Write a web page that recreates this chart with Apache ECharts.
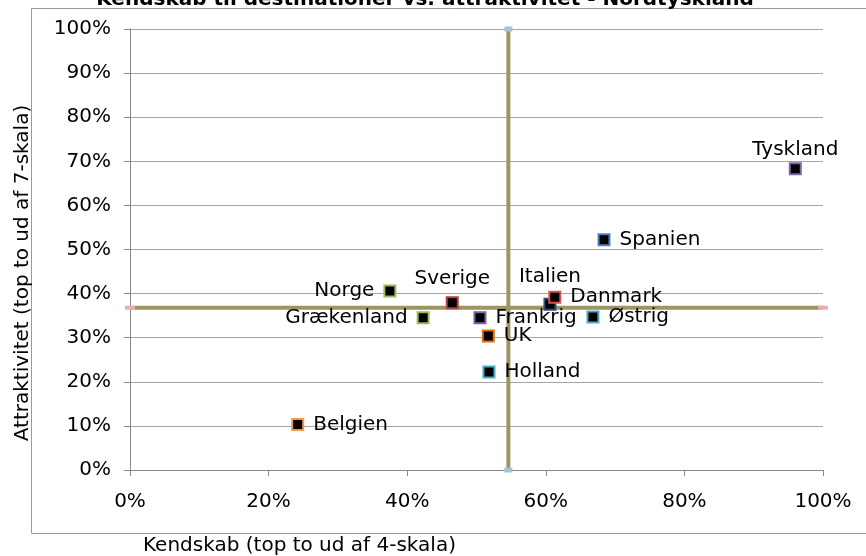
<!DOCTYPE html>
<html>
<head>
<meta charset="utf-8">
<script src="https://cdn.jsdelivr.net/npm/echarts@6/dist/echarts.min.js"></script>
<style>
    html, body { margin: 0; padding: 0; background: #fff; }
    #chart { width: 866px; height: 556px; }
</style>
</head>
<body>
<div id="chart"></div>
<script>
// data
var countries = ['Tyskland', 'Spanien', 'Italien', 'Danmark', 'Østrig', 'Norge', 'Sverige', 'Grækenland', 'Frankrig', 'UK', 'Holland', 'Belgien'];
var kendskab = [0.960, 0.684, 0.606, 0.613, 0.668, 0.375, 0.465, 0.423, 0.505, 0.517, 0.518, 0.242];
var attraktivitet = [0.683, 0.522, 0.376, 0.392, 0.347, 0.406, 0.379, 0.345, 0.345, 0.304, 0.222, 0.103];
// the two average lines
var avgKendskab = 0.546;
var avgAttraktivitet = 0.368;
var xTicks = [0, 0.2, 0.4, 0.6, 0.8, 1];
var yTicks = [0, 0.1, 0.2, 0.3, 0.4, 0.5, 0.6, 0.7, 0.8, 0.9, 1];

var titleText = 'Kendskab til destinationer vs. attraktivitet - Nordtyskland';
var xName = 'Kendskab (top to ud af 4-skala)';
var yName = 'Attraktivitet (top to ud af 7-skala)';

// marker border colour and label placement per country
var styleMap = {
    'Tyskland':   { border: '#8064a2', pos: 'top', dist: 3 },
    'Spanien':    { border: '#4f81bd', pos: 'right', dist: 9 },
    'Danmark':    { border: '#d9534f', pos: 'right', dist: 9 },
    'Italien':    { border: '#2c4d75', pos: 'top', dist: 11 },
    'Østrig':     { border: '#4bacc6', pos: 'right', dist: 9 },
    'Norge':      { border: '#9bbb59', pos: 'left', dist: 9 },
    'Sverige':    { border: '#b0413e', pos: 'top', dist: 8 },
    'Grækenland': { border: '#9bbb59', pos: 'left', dist: 9 },
    'Frankrig':   { border: '#8064a2', pos: 'right', dist: 9 },
    'UK':         { border: '#e46c0a', pos: 'right', dist: 9 },
    'Holland':    { border: '#4bacc6', pos: 'right', dist: 9 },
    'Belgien':    { border: '#f79646', pos: 'right', dist: 9 }
};

var font = 'DejaVu Sans';

function pct(v) {
    return Math.round(v * 100) + '%';
}

var points = [];
for (var i = 0; i < countries.length; i++) {
    var s = styleMap[countries[i]];
    points.push({
        name: countries[i],
        value: [kendskab[i], attraktivitet[i]],
        itemStyle: { color: '#000', borderColor: s.border, borderWidth: 2, opacity: 1 },
        label: { position: s.pos, distance: s.dist }
    });
}

var chart = echarts.init(document.getElementById('chart'), null, { renderer: 'canvas' });

var option = {
    animation: false,
    backgroundColor: '#fff',
    grid: { left: 130, right: 43, top: 29, bottom: 86 },
    graphic: [
        {
            type: 'rect',
            shape: { x: 31.5, y: 8.5, width: 900, height: 525 },
            style: { fill: 'none', stroke: '#9a9a9a', lineWidth: 1 },
            z: -10
        },
        {
            type: 'text',
            x: 425, y: 10,
            style: {
                text: titleText, font: 'bold 20px "DejaVu Sans"',
                fill: '#000', textAlign: 'center', textVerticalAlign: 'bottom'
            }
        },
        {
            type: 'text',
            x: 143, y: 546,
            style: {
                text: xName, font: '20px "DejaVu Sans"',
                fill: '#000', textAlign: 'left', textVerticalAlign: 'middle'
            }
        },
        {
            type: 'text',
            x: 23, y: 273, rotation: Math.PI / 2,
            style: {
                text: yName, font: '20px "DejaVu Sans"',
                fill: '#000', textAlign: 'center', textVerticalAlign: 'middle'
            }
        }
    ],
    xAxis: {
        type: 'value',
        min: xTicks[0],
        max: xTicks[xTicks.length - 1],
        interval: xTicks[1] - xTicks[0],
        axisLine: { show: true, lineStyle: { color: '#888', width: 1 } },
        axisTick: { show: true, length: 6, lineStyle: { color: '#888' } },
        splitLine: { show: false },
        axisLabel: {
            margin: 22, color: '#000', fontSize: 20, fontFamily: font,
            formatter: pct
        }
    },
    yAxis: {
        type: 'value',
        min: yTicks[0],
        max: yTicks[yTicks.length - 1],
        interval: yTicks[1] - yTicks[0],
        axisLine: { show: true, lineStyle: { color: '#888', width: 1 } },
        axisTick: { show: true, length: 6, lineStyle: { color: '#888' } },
        splitLine: { show: true, lineStyle: { color: '#a6a6a6', width: 1 } },
        axisLabel: {
            margin: 19, color: '#000', fontSize: 20, fontFamily: font,
            formatter: pct
        }
    },
    series: [
        {
            // horizontal average line
            type: 'line',
            data: [[0, avgAttraktivitet], [1, avgAttraktivitet]],
            symbol: 'rect',
            symbolSize: [10, 4],
            showSymbol: true,
            clip: false,
            itemStyle: { color: '#e6b0b0' },
            lineStyle: { color: '#9c9462', width: 4 },
            z: 2
        },
        {
            // vertical average line
            type: 'line',
            data: [[avgKendskab, 0], [avgKendskab, 1]],
            symbol: 'rect',
            symbolSize: [8, 5],
            showSymbol: true,
            clip: false,
            itemStyle: { color: '#a9bfdd' },
            lineStyle: { color: '#9c9462', width: 4 },
            z: 2
        },
        {
            type: 'scatter',
            data: points,
            symbol: 'rect',
            symbolSize: 11,
            z: 5,
            itemStyle: { opacity: 1 },
            label: {
                show: true,
                formatter: '{b}',
                color: '#000',
                fontSize: 20,
                fontFamily: font
            }
        }
    ]
};

chart.setOption(option);
</script>
</body>
</html>
